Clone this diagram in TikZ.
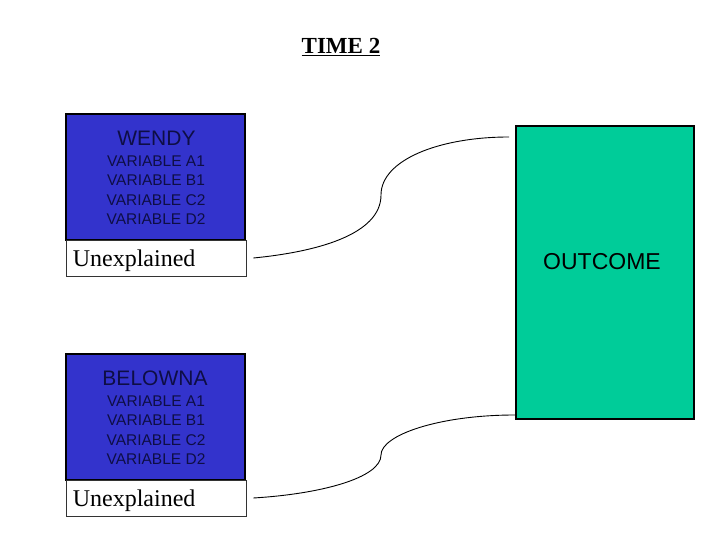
\documentclass[tikz,border=0pt]{standalone}
\usepackage{fontspec}
\setmainfont{Liberation Serif}
\setsansfont{Liberation Sans}
\usepackage{xcolor}
\usetikzlibrary{positioning, calc}
\definecolor{boxblue}{HTML}{3333CC}
\definecolor{inkblue}{HTML}{0E0E45}
\definecolor{outgreen}{HTML}{00CC99}

\tikzset{
    groupbox/.style={draw=black, line width=2pt, fill=boxblue, minimum width=179pt, minimum height=126pt, inner sep=0pt},
    unexpbox/.style={draw=black!80, line width=0.8pt, fill=white, minimum width=180pt, minimum height=36pt, inner sep=0pt},
    grouptitle/.style={font=\sffamily\fontsize{21}{24}\selectfont, text=inkblue, inner sep=0pt},
    grouplist/.style={font=\sffamily\fontsize{15.5}{19.5}\selectfont, text=inkblue, align=center, inner sep=0pt},
    unexptext/.style={font=\rmfamily\fontsize{24}{26}\selectfont, anchor=west, inner sep=0pt},
    link/.style={line width=0.9pt}
}

\begin{document}
\begin{tikzpicture}[x=1pt, y=1pt]
    \useasboundingbox (0,0) rectangle (720,540);

    % Titre
    \node[font=\rmfamily\bfseries\fontsize{23}{26}\selectfont, inner sep=0pt] (titre) at (341,493) {\underline{TIME 2}};

    % Groupe WENDY
    \node[groupbox] (wendy) at (155.5,363) {};
    \node[grouptitle] (wendyname) at (156.5,402) {WENDY};
    \node[grouplist] (wendyvars) at (156,350) {VARIABLE A1\\VARIABLE B1\\VARIABLE C2\\VARIABLE D2};
    \node[unexpbox] (unexpa) at (156,282) {};
    \node[unexptext] (unexpatext) at ([xshift=7pt,yshift=-3pt]unexpa.west) {Unexplained};

    % Groupe BELOWNA
    \node[groupbox] (belowna) at (155.5,123) {};
    \node[grouptitle] (belownaname) at (155,162) {BELOWNA};
    \node[grouplist] (belownavars) at (156,110) {VARIABLE A1\\VARIABLE B1\\VARIABLE C2\\VARIABLE D2};
    \node[unexpbox] (unexpb) at (156,42) {};
    \node[unexptext] (unexpbtext) at ([xshift=7pt,yshift=-3pt]unexpb.west) {Unexplained};

    % Resultat
    \node[draw=black, line width=2pt, fill=outgreen, minimum width=178pt, minimum height=293pt, inner sep=0pt] (outcome) at (605,267.5) {};
    \node[font=\sffamily\fontsize{23}{26}\selectfont, inner sep=0pt] (outcometext) at (602,278) {OUTCOME};

    % Liaisons
    \coordinate (bendA) at (381,345);
    \coordinate (bendB) at (381,85);
    \draw[link] ([xshift=7pt]unexpa.east) .. controls +(62,6) and +(0,-40) .. (bendA)
        .. controls +(0,35) and +(-70,0) .. ([xshift=-6pt,yshift=-12pt]outcome.north west);
    \draw[link] ([xshift=7pt]unexpb.east) .. controls +(67,4) and +(0,-23) .. (bendB)
        .. controls +(0,20) and +(-76,0) .. ([yshift=5pt]outcome.south west);
\end{tikzpicture}
\end{document}
